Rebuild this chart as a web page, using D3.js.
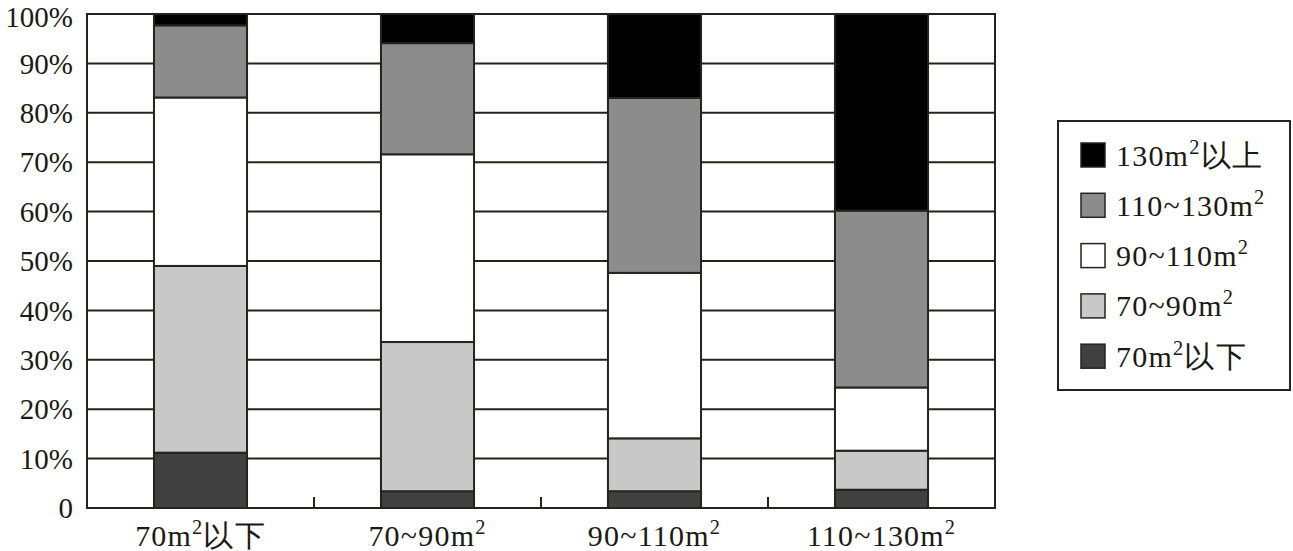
<!DOCTYPE html>
<html><head><meta charset="utf-8">
<script src="https://cdn.jsdelivr.net/npm/d3@7"></script>
<style>
body{margin:0;background:#fff;}
</style></head>
<body><svg id="c" width="1293" height="551"></svg>
<script>
const categories = ["70m²以下","70~90m²","90~110m²","110~130m²"];
const seriesNames = ["70m²以下","70~90m²","90~110m²","110~130m²","130m²以上"];
const s70below   = [11.2, 3.4, 3.4, 3.7];
const s70to90    = [37.8, 30.2, 10.7, 7.9];
const s90to110   = [34.1, 38.0, 33.5, 12.8];
const s110to130  = [14.6, 22.5, 35.4, 35.8];
const s130above  = [2.3, 5.9, 17.0, 39.8];
const yTicks = [0,10,20,30,40,50,60,70,80,90,100];
const colors = ["#404040","#c8c8c8","#ffffff","#8c8c8c","#000000"];

const FONT = "Liberation Serif";
const seriesVals = [s70below,s70to90,s90to110,s110to130,s130above];
const rows = categories.map((c,i)=>{const r={cat:c}; seriesNames.forEach((s,j)=>r[s]=seriesVals[j][i]); return r;});
const stacked = d3.stack().keys(seriesNames)(rows);

const svg = d3.select("#c");
const L=87,R=995,T=14,B=508;
const line="#24241a";
const x = d3.scaleBand().domain(categories).range([L,R]).paddingInner(0.59).paddingOuter(0.295);
const y = d3.scaleLinear().domain([0,100]).range([B,T]);

function supText(sel, str, fs){
  const parts = str.split("²");
  sel.text(null);
  sel.append("tspan").text(parts[0]);
  if(parts.length>1){
    sel.append("tspan").attr("dy",-fs*0.4).attr("font-size",(fs*0.68)).text("2");
    sel.append("tspan").attr("dy",fs*0.4).text(parts[1]);
  }
}

// gridlines
svg.append("g").selectAll("line").data(yTicks.filter(t=>t>0&&t<100)).join("line")
  .attr("x1",L).attr("x2",R).attr("y1",d=>y(d)).attr("y2",d=>y(d))
  .attr("stroke",line).attr("stroke-width",2);

// bars
svg.append("g").selectAll("g").data(stacked).join("g")
  .attr("fill",(d,i)=>colors[i])
  .selectAll("rect").data(d=>d).join("rect")
  .attr("x",d=>x(d.data.cat)).attr("width",x.bandwidth())
  .attr("y",d=>y(d[1])).attr("height",d=>y(d[0])-y(d[1]))
  .attr("stroke",line).attr("stroke-width",2);

// frame
svg.append("rect").attr("x",L).attr("y",T).attr("width",R-L).attr("height",B-T)
  .attr("fill","none").attr("stroke",line).attr("stroke-width",2);

// x ticks between categories
const step = x.step();
svg.append("g").selectAll("line").data(categories.slice(1)).join("line")
  .attr("x1",d=>x(d)-(step-x.bandwidth())/2).attr("x2",d=>x(d)-(step-x.bandwidth())/2)
  .attr("y1",B).attr("y2",B-11).attr("stroke",line).attr("stroke-width",2);

// y tick labels
svg.append("g").selectAll("text").data(yTicks).join("text")
  .attr("font-family",FONT).attr("fill","#1a1a14")
  .attr("x",73).attr("y",d=>Math.max(y(d),T+3)).attr("dy","0.35em").attr("text-anchor","end")
  .attr("font-size",29).text(d=>d===0?"0":d+"%");

// x labels
svg.append("g").selectAll("text").data(categories).join("text")
  .attr("font-family",FONT).attr("fill","#1a1a14").attr("letter-spacing",1.2)
  .attr("x",d=>x(d)+x.bandwidth()/2).attr("y",546).attr("text-anchor","middle")
  .attr("font-size",30).each(function(d){supText(d3.select(this),d,30);});

// legend
const lg = svg.append("g");
lg.append("rect").attr("x",1058).attr("y",121).attr("width",232).attr("height",269)
  .attr("fill","#fff").attr("stroke",line).attr("stroke-width",2);
const legendOrder = seriesNames.map((s,i)=>({s,c:colors[i]})).reverse();
const li = lg.selectAll("g.it").data(legendOrder).join("g").attr("class","it")
  .attr("transform",(d,i)=>`translate(0,${155+i*50.3})`);
li.append("rect").attr("x",1081).attr("y",-12).attr("width",24).attr("height",24)
  .attr("fill",d=>d.c).attr("stroke",line).attr("stroke-width",1.5);
li.append("text").attr("font-family",FONT).attr("fill","#1a1a14").attr("letter-spacing",1.2)
  .attr("x",1116).attr("y",0).attr("dy","0.35em")
  .attr("font-size",30).each(function(d){supText(d3.select(this),d.s,30);});
</script></body></html>
